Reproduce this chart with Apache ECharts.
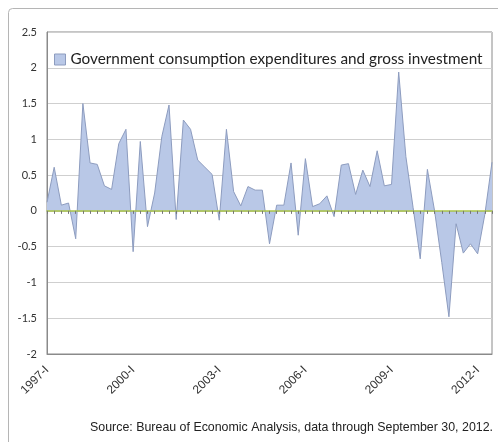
<!DOCTYPE html>
<html>
<head>
<meta charset="utf-8">
<script src="https://cdn.jsdelivr.net/npm/echarts@6/dist/echarts.min.js"></script>
<style>
  html, body { margin: 0; padding: 0; background: #fff; }
  #chart { width: 498px; height: 442px; }
</style>
</head>
<body>
<div id="chart"></div>
<script>
// quarters 1997-I .. 2012-III
var years = [];
for (var y = 1997; y <= 2012; y++) years.push(y);
var quarterNames = ["I", "II", "III", "IV"];
var categories = [];
years.forEach(function (y) {
  quarterNames.forEach(function (q) {
    if (categories.length < 63) categories.push(y + "-" + q);
  });
});

var seriesName = "Government consumption expenditures and gross investment";
var govValues = [
  0.12, 0.61, 0.08, 0.11, -0.39, 1.50, 0.67, 0.65, 0.35, 0.30, 0.94, 1.14,
  -0.57, 0.97, -0.22, 0.25, 1.04, 1.48, -0.12, 1.27, 1.14, 0.71, 0.61, 0.51,
  -0.13, 1.14, 0.27, 0.07, 0.34, 0.29, 0.29, -0.46, 0.08, 0.08, 0.67, -0.34,
  0.73, 0.06, 0.10, 0.21, -0.08, 0.64, 0.66, 0.23, 0.57, 0.34, 0.84, 0.35,
  0.37, 1.94, 0.76, 0.05, -0.67, 0.58, 0.00, -0.72, -1.48, -0.18, -0.59, -0.46,
  -0.60, -0.05, 0.68
];
var sourceText = "Source: Bureau of Economic Analysis, data through September 30, 2012.";

var fillColor = "#b9c8e7";
var edgeColor = "#8d9cbf";

var chart = echarts.init(document.getElementById("chart"));
var option = {
  animation: false,
  backgroundColor: "#fff",
  grid: {
    left: 47, right: 6, top: 32, bottom: 88,
    show: true, borderColor: "#8a8a8a", borderWidth: 1
  },
  legend: {
    data: [seriesName],
    left: 49, top: 47,
    icon: "rect", itemWidth: 11, itemHeight: 11, itemGap: 4,
    itemStyle: { color: fillColor, borderColor: edgeColor, borderWidth: 1 },
    textStyle: { fontSize: 15.3, color: "#222", fontFamily: "Lato" }
  },
  xAxis: [{
    type: "category",
    data: categories,
    boundaryGap: false,
    axisLine: { onZero: false, lineStyle: { color: "#8a8a8a" } },
    axisTick: { show: false },
    axisLabel: {
      interval: 11, rotate: 45, margin: 14,
      fontSize: 12, color: "#333", fontFamily: "Liberation Sans"
    },
    splitLine: { show: false }
  }, {
    type: "category",
    data: categories,
    boundaryGap: false,
    position: "bottom",
    z: 5,
    axisLine: { onZero: true, lineStyle: { color: "#a9c445", width: 1.5 } },
    axisTick: { show: true, interval: 0, length: 3, lineStyle: { color: "#777" } },
    axisLabel: { show: false },
    splitLine: { show: false }
  }],
  yAxis: {
    type: "value",
    min: -2, max: 2.5, interval: 0.5,
    axisLine: { show: true, lineStyle: { color: "#8a8a8a" } },
    axisTick: { show: false },
    axisLabel: { margin: 10, fontSize: 11, color: "#333", fontFamily: "Lato" },
    splitLine: { lineStyle: { color: "#cfcfcf", width: 1 } }
  },
  series: [{
    name: seriesName,
    type: "line",
    xAxisIndex: 0,
    data: govValues,
    symbol: "none",
    lineStyle: { color: edgeColor, width: 1 },
    itemStyle: { color: fillColor },
    areaStyle: { color: fillColor, opacity: 1 },
    z: 1
  }],
  graphic: [{
    type: "rect",
    shape: { x: 8.5, y: 8.5, width: 495, height: 445, r: 4 },
    style: { fill: "none", stroke: "#b5b5b5", lineWidth: 1 },
    silent: true
  }, {
    type: "text",
    right: 5, top: 422,
    style: {
      text: sourceText,
      font: "12.4px 'Liberation Sans', Arial, sans-serif",
      fill: "#222"
    }
  }]
};
chart.setOption(option);
</script>
</body>
</html>
